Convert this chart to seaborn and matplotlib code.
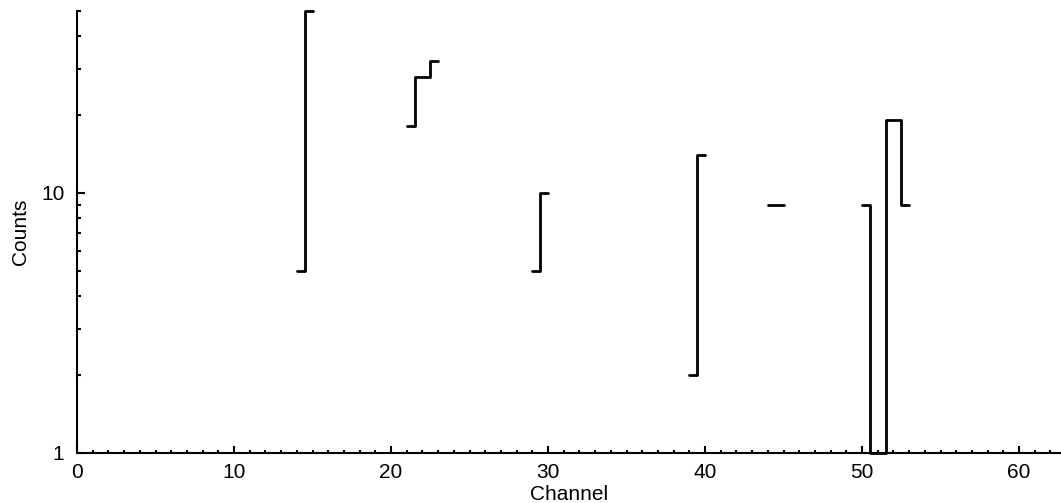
import numpy as np
import pandas as pd
import seaborn as sns
import matplotlib
matplotlib.use("Agg")
import matplotlib.pyplot as plt

# --- data (only non-empty channels) ---
channel = [14, 15, 21, 22, 23, 29, 30, 39, 40, 44, 45, 50, 51, 52, 53]
counts = [5, 50, 18, 28, 32, 5, 10, 2, 14, 9, 9, 9, 1, 19, 9]

df = pd.DataFrame({"Channel": channel, "Counts": counts})
# consecutive channels form one connected step segment
df["run"] = (df["Channel"].diff() != 1).cumsum()

# --- style ---
sns.set_style("ticks")
plt.rcParams["font.family"] = ["Liberation Sans", "DejaVu Sans"]
plt.rcParams["font.size"] = 15
plt.rcParams["text.color"] = "black"
plt.rcParams["axes.labelcolor"] = "black"

fig = plt.figure(figsize=(10.61, 5.03), dpi=100)
ax = fig.add_axes([77 / 1061, 50 / 503, 984 / 1061, 442 / 503])
ax.set_yscale("log")

sns.lineplot(data=df, x="Channel", y="Counts", units="run", estimator=None,
             drawstyle="steps-mid", color="black", linewidth=2.0,
             legend=False, ax=ax, clip_on=False)

ax.set_xlim(0, 62.67)
ax.set_ylim(1, 50)
ax.set_xticks([0, 10, 20, 30, 40, 50, 60])
ax.set_xticks(np.arange(0, 63, 1), minor=True)
ax.set_yticks([1, 10])
ax.set_yticklabels(["1", "10"])

for side in ["top", "right"]:
    ax.spines[side].set_visible(False)
for side in ["left", "bottom"]:
    ax.spines[side].set_linewidth(1.5)
    ax.spines[side].set_color("black")
    ax.spines[side].set_zorder(3)

ax.tick_params(axis="both", which="both", direction="in", width=1.5,
               colors="black", labelsize=15)
ax.tick_params(axis="x", which="major", length=5, pad=7.5)
ax.tick_params(axis="x", which="minor", length=2.5)
ax.tick_params(axis="y", which="major", length=6, pad=9)
ax.tick_params(axis="y", which="minor", length=3, labelleft=False)

ax.set_xlabel("Channel", fontsize=15, labelpad=2)
ax.set_ylabel("Counts", fontsize=15, labelpad=8)

fig.savefig("out.png", dpi=100)
